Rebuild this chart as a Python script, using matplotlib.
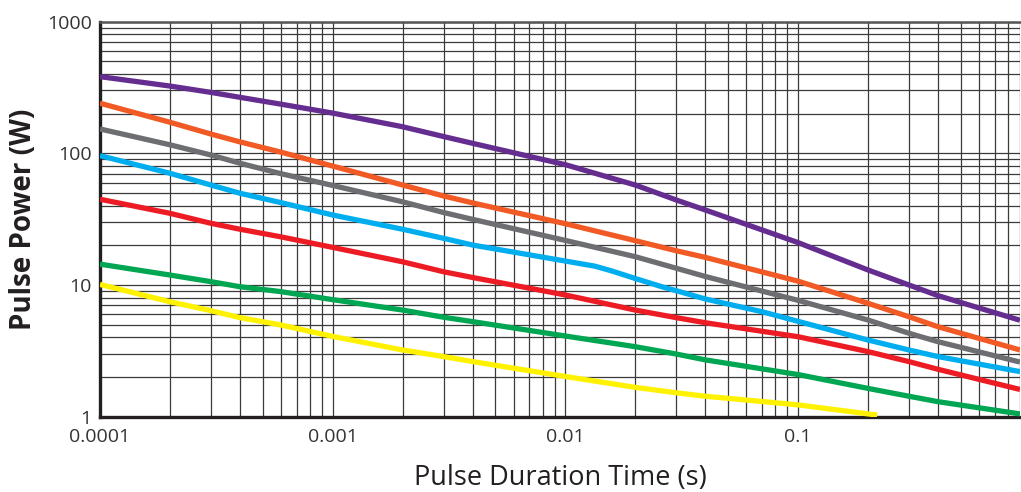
import matplotlib
matplotlib.use("Agg")
import matplotlib.pyplot as plt
from matplotlib.ticker import LogLocator, NullFormatter

# ---- data ----
x_ticks = [0.0001, 0.001, 0.01, 0.1]
x_tick_labels = ["0.0001", "0.001", "0.01", "0.1"]
y_ticks = [1, 10, 100, 1000]
y_tick_labels = ["1", "10", "100", "1000"]

common_x = [1e-4, 2e-4, 3e-4, 4e-4, 6e-4, 1e-3, 2e-3, 3e-3, 4e-3, 1e-2, 2e-2, 3e-2, 4e-2,
            0.1, 0.2, 0.3, 0.4, 0.9]

purple_y = [382, 324, 290, 266, 236, 202, 159, 134, 119, 82, 57.4, 44.2, 37.1, 21, 13, 10, 8.3, 5.4]
orange_y = [240, 172, 140, 122, 102, 80, 57.4, 47.4, 42, 29.2, 21.7, 18.2, 16.2, 10.7, 7.26, 5.74, 4.82, 3.21]
gray_y = [153, 116, 97, 84, 70, 57, 42.8, 35.5, 31.5, 21.8, 16.4, 13.4, 11.6, 7.65, 5.42, 4.30, 3.71, 2.60]
red_y = [44.8, 35, 29.4, 26.5, 23.2, 19.3, 15.0, 12.6, 11.4, 8.4, 6.45, 5.65, 5.17, 4.05, 3.12, 2.62, 2.29, 1.61]
green_y = [14.4, 11.9, 10.6, 9.7, 8.9, 7.74, 6.45, 5.69, 5.27, 4.1, 3.40, 2.99, 2.70, 2.09, 1.64, 1.43, 1.30, 1.05]

blue_x = [1e-4, 2e-4, 3e-4, 4e-4, 6e-4, 1e-3, 2e-3, 3e-3, 4e-3, 1e-2, 1.34e-2, 1.58e-2, 2e-2,
          2.6e-2, 3e-2, 4e-2, 7e-2, 0.1, 0.2, 0.3, 0.4, 0.9]
blue_y = [96, 70.5, 57.4, 49.7, 42.2, 34, 26.5, 22.6, 20.1, 15.2, 13.9, 12.8, 11.2,
          9.7, 9.05, 7.83, 6.27, 5.3, 3.82, 3.21, 2.86, 2.20]

yellow_x = [1e-4, 2e-4, 3e-4, 4e-4, 6e-4, 1e-3, 2e-3, 3e-3, 4e-3, 1e-2, 2e-2, 3e-2, 4e-2,
            0.1, 0.2, 0.219]
yellow_y = [10.1, 7.46, 6.38, 5.65, 4.97, 4.07, 3.21, 2.86, 2.62, 2.02, 1.67, 1.52, 1.43,
            1.23, 1.05, 1.03]

series = [
    (common_x, purple_y, "#662d91"),
    (common_x, orange_y, "#f15a24"),
    (common_x, gray_y, "#6d6e71"),
    (blue_x, blue_y, "#00aeef"),
    (common_x, red_y, "#ed1c24"),
    (common_x, green_y, "#00a651"),
    (yellow_x, yellow_y, "#fff200"),
]

plt.rcParams['font.family'] = ['Open Sans', 'DejaVu Sans']
text_color = "#231f20"

fig = plt.figure(figsize=(10.21, 4.92), dpi=100)
ax = fig.add_axes([100 / 1021, 1 - 416.7 / 492, 920 / 1021, (416.7 - 21.6) / 492])
ax.set_xscale("log")
ax.set_yscale("log")
ax.set_xlim(1e-4, 0.9)
ax.set_ylim(1, 1000)

for xs, ys, c in series:
    ax.plot(xs, ys, color=c, lw=3.8, solid_capstyle="butt", solid_joinstyle="round", zorder=3)

ax.xaxis.set_minor_locator(LogLocator(base=10, subs=range(2, 10), numticks=20))
ax.yaxis.set_minor_locator(LogLocator(base=10, subs=range(2, 10), numticks=20))
ax.xaxis.set_minor_formatter(NullFormatter())
ax.yaxis.set_minor_formatter(NullFormatter())
ax.set_xticks(x_ticks)
ax.set_xticklabels(x_tick_labels)
ax.set_yticks(y_ticks)
ax.set_yticklabels(y_tick_labels)
ax.grid(True, which="both", color="#3a3a3a", lw=0.9, zorder=1)
ax.tick_params(which="both", length=0)
ax.tick_params(axis="x", pad=8, labelsize=14, labelcolor="#333333")
ax.tick_params(axis="y", pad=6, labelsize=14, labelcolor="#333333")

for s in ["left", "bottom"]:
    ax.spines[s].set_linewidth(2.4)
    ax.spines[s].set_color(text_color)
ax.spines["top"].set_linewidth(1.8)
ax.spines["top"].set_color("#555555")
ax.spines["right"].set_visible(False)

ax.set_xlabel("Pulse Duration Time (s)", fontsize=19.5, color=text_color)
ax.set_ylabel("Pulse Power (W)", fontsize=20, fontweight="bold", color=text_color)
ax.xaxis.set_label_coords(0.5, (416.7 - 464) / 395.1)
ax.yaxis.set_label_coords((38 - 100) / 920, 0.5)

fig.savefig("out.png", dpi=100)
